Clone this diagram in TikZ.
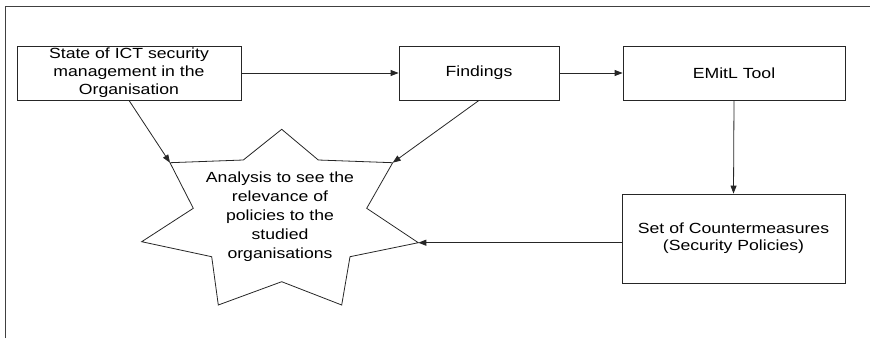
\documentclass[tikz,border=0pt]{standalone}
\usepackage{fontspec}
\setmainfont{Liberation Sans}[FakeStretch=1.2]
\usetikzlibrary{arrows.meta}
\tikzset{
  ink/.style={draw=black!85, line width=0.8pt},
  box/.style={ink, rectangle, align=center, inner sep=0pt, font=\fontsize{14.7}{18}\selectfont},
  arr/.style={ink, -{Triangle[length=8pt,width=6pt]}},
  frameline/.style={draw=black!75, line width=0.9pt}
}
\begin{document}
\begin{tikzpicture}[x=1pt,y=-1pt]
\useasboundingbox (0,0) rectangle (870,338);
% outer frame (top and left visible)
\draw[frameline] (5,338) -- (5,6) -- (870,6);
% boxes
\node[box, minimum width=224pt, minimum height=54pt] (state) at (129,73) {State of ICT security\\management in the\\Organisation};
\node[box, minimum width=160pt, minimum height=54pt] (findings) at (479,73) {Findings};
\node[box, minimum width=222pt, minimum height=54pt] (emitl) at (734,73) {EMitL Tool};
\node[box, minimum width=223pt, minimum height=89pt, font=\fontsize{14.7}{17}\selectfont] (counter) at (733.5,238.5) {\raisebox{2pt}{\begin{tabular}{@{}c@{}}Set of Countermeasures\\(Security Policies)\end{tabular}}};
% star
\coordinate (sT) at (281.7,129.3);
\coordinate (sUR) at (392.7,162.7);
\coordinate (sR) at (418.3,242.7);
\coordinate (sLR) at (341.7,305);
\coordinate (sLL) at (218.3,305);
\coordinate (sL) at (141.7,241.7);
\coordinate (sUL) at (170,162.7);
\draw[ink, line join=miter] (sT) -- (318.3,160) -- (sUR) -- (366.7,208.3) -- (sR) -- (350,256.7) -- (sLR) -- (281.7,281.7) -- (sLL) -- (211.7,256.7) -- (sL) -- (193.3,208.3) -- (sUL) -- (243.3,160) -- cycle;
\node[align=center, inner sep=0pt, font=\fontsize{14.7}{19}\selectfont] (star) at (280,217) {Analysis to see the\\relevance of\\policies to the\\studied\\organisations};
% connectors
\draw[arr] (state.east) -- (findings.west);
\draw[arr] (findings.east) -- (emitl.west);
\draw[arr] (emitl.south) -- (counter.north);
\draw[arr] (sR -| counter.west) -- (sR);
\draw[arr] (state.south) -- (sUL);
\draw[arr] (findings.south) -- (sUR);
\end{tikzpicture}
\end{document}
